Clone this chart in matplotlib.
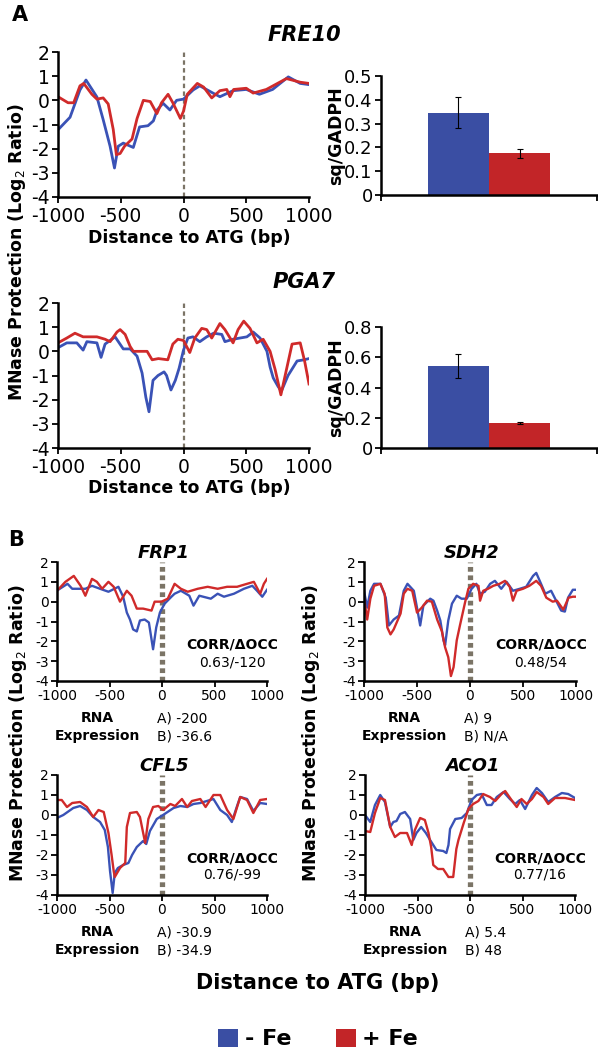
import matplotlib
matplotlib.use("Agg")
import matplotlib.pyplot as plt
from matplotlib.patches import Patch

plt.rcParams["axes.unicode_minus"] = False

W, H = 598, 1050
BLUE = "#3a52b6"
RED = "#d02a2a"
BAR_BLUE = "#3a4ea3"
BAR_RED = "#c22528"
DASH = "#7b7466"

# ---- panel A data ----
fre10_blue_x = [-1000, -904, -825, -777, -690, -640, -585, -550, -520, -480, -400, -350, -283, -240, -210, -163,
                -108, -55, 0, 77, 130, 235, 290, 395, 500, 605, 710, 835, 930, 1000]
fre10_blue_y = [-1.22, -0.7, 0.43, 0.84, 0.14, -0.8, -1.9, -2.8, -1.9, -1.77, -1.95, -1.1, -1.05, -0.85, -0.4, -0.12,
                -0.4, 0.0, 0.05, 0.43, 0.6, 0.3, 0.15, 0.4, 0.45, 0.25, 0.45, 0.97, 0.7, 0.65]
fre10_red_x = [-1000, -920, -875, -825, -795, -730, -690, -640, -600, -560, -535, -505, -470, -410, -370, -320, -265,
               -212, -175, -123, -85, -25, 0, 30, 110, 160, 225, 290, 345, 370, 400, 500, 555, 660, 820, 930, 1000]
fre10_red_y = [0.15, -0.1, -0.1, 0.6, 0.7, 0.25, 0.05, 0.1, -0.15, -1.2, -2.25, -2.2, -1.9, -1.6, -0.75, 0.0, -0.05,
               -0.55, -0.1, 0.25, -0.1, -0.75, -0.45, 0.25, 0.7, 0.55, 0.1, 0.4, 0.45, 0.15, 0.45, 0.5, 0.3, 0.45, 0.9,
               0.75, 0.7]

pga7_blue_x = [-1000, -930, -850, -800, -770, -690, -657, -625, -545, -480, -425, -370, -330, -300, -275, -243, -203,
               -155, -135, -100, -65, -35, 0, 35, 75, 130, 185, 240, 305, 330, 395, 505, 555, 610, 665, 690, 715, 753,
               780, 833, 905, 960, 1000]
pga7_blue_y = [0.15, 0.35, 0.35, 0.05, 0.4, 0.35, -0.25, 0.3, 0.6, 0.1, 0.1, -0.2, -0.9, -1.9, -2.5, -1.2, -1.0,
               -0.85, -1.0, -1.6, -1.2, -0.7, 0.05, 0.55, 0.6, 0.4, 0.6, 0.75, 0.7, 0.4, 0.5, 0.6, 0.8, 0.55, 0.0,
               -0.65, -1.1, -1.45, -1.65, -1.0, -0.4, -0.35, -0.3]
pga7_red_x = [-1000, -930, -865, -800, -690, -625, -585, -530, -505, -465, -425, -400, -290, -250, -200, -125, -85,
              -45, 0, 50, 90, 145, 185, 225, 290, 330, 395, 435, 480, 530, 585, 635, 690, 730, 776, 810, 865, 930,
              965, 1000]
pga7_red_y = [0.35, 0.55, 0.75, 0.6, 0.6, 0.5, 0.4, 0.8, 0.9, 0.7, 0.2, 0.0, 0.0, -0.35, -0.3, -0.35, 0.3, 0.5, 0.45,
              -0.05, 0.55, 0.95, 0.9, 0.55, 1.15, 0.9, 0.35, 0.9, 1.25, 0.95, 0.35, 0.5, 0.0, -0.75, -1.8, -1.0, 0.3,
              0.35, -0.4, -1.35]

fre10_bar = [0.345, 0.175]
fre10_err = [0.065, 0.02]
pga7_bar = [0.54, 0.165]
pga7_err = [0.08, 0.005]

# ---- panel B data ----
frp1_blue_x = [-1000, -900, -855, -730, -667, -590, -510, -415, -370, -335, -305, -275, -240, -210, -165, -125, -85,
               -55, -20, 25, 90, 120, 180, 260, 300, 355, 465, 530, 590, 685, 780, 860, 905, 955, 1000]
frp1_blue_y = [0.56, 0.9, 0.65, 0.65, 0.8, 0.65, 0.5, 0.75, 0.25, -0.55, -0.9, -1.4, -1.5, -0.95, -0.9, -1.05, -2.4,
               -1.3, -0.55, -0.1, 0.25, 0.4, 0.55, 0.3, -0.2, 0.3, 0.15, 0.4, 0.25, 0.4, 0.65, 0.8, 0.55, 0.25, 0.6]
frp1_red_x = [-1000, -920, -840, -775, -730, -667, -620, -570, -510, -460, -400, -335, -290, -240, -180, -100, -70,
              -5, 55, 120, 180, 245, 340, 435, 530, 620, 715, 810, 875, 935, 970, 1000]
frp1_red_y = [0.55, 1.0, 1.3, 0.8, 0.3, 1.15, 1.0, 0.65, 1.0, 0.75, 0.0, 0.55, 0.3, -0.35, -0.35, -0.45, 0.0, 0.0,
              0.15, 0.9, 0.65, 0.5, 0.65, 0.75, 0.65, 0.75, 0.75, 0.9, 1.0, 0.4, 0.9, 1.15]

sdh2_blue_x = [-1000, -970, -940, -905, -845, -795, -765, -720, -670, -625, -590, -530, -495, -470, -440, -375, -345,
               -310, -280, -250, -235, -205, -170, -125, -80, -30, 15, 60, 95, 140, 190, 235, 295, 345, 405, 470, 530,
               595, 625, 670, 710, 765, 860, 895, 925, 970, 1000]
sdh2_blue_y = [0.55, -0.3, 0.55, 0.9, 0.9, 0.2, -1.2, -0.9, -0.7, 0.55, 0.9, 0.55, -0.45, -1.2, -0.2, 0.15, 0.05,
               -0.45, -0.95, -1.95, -2.2, -0.95, -0.1, 0.3, 0.15, 0.15, 0.65, 0.9, 0.4, 0.5, 0.9, 1.05, 0.65, 1.0,
               0.55, 0.65, 0.75, 1.3, 1.45, 0.9, 0.4, 0.55, -0.45, -0.5, 0.2, 0.6, 0.6]
sdh2_red_x = [-1000, -970, -940, -905, -845, -805, -780, -750, -720, -655, -625, -590, -545, -500, -455, -405, -360,
              -310, -265, -235, -205, -180, -155, -125, -95, -45, -15, 30, 80, 95, 125, 170, 220, 280, 330, 375, 405,
              440, 500, 560, 625, 670, 720, 780, 820, 880, 930, 970, 1000]
sdh2_red_y = [0.2, -0.9, 0.15, 0.8, 0.9, 0.4, -1.3, -1.65, -1.4, -0.6, 0.4, 0.65, 0.55, -0.55, -0.3, 0.05, 0.0, -0.9,
              -1.5, -2.3, -2.8, -3.75, -3.3, -1.95, -1.2, 0.0, 0.65, 0.9, 0.8, 0.05, 0.55, 0.65, 0.8, 0.9, 1.05, 0.75,
              0.05, 0.55, 0.65, 0.8, 1.05, 0.8, 0.2, 0.0, 0.05, -0.4, 0.2, 0.25, 0.25]

cfl5_blue_x = [-1000, -940, -845, -780, -715, -655, -590, -545, -515, -495, -470, -450, -420, -370, -320, -285, -240,
               -180, -150, -115, -50, 10, 110, 175, 240, 300, 365, 490, 555, 620, 665, 715, 745, 810, 870, 935, 1000]
cfl5_blue_y = [-0.15, 0.0, 0.35, 0.45, 0.25, -0.1, -0.35, -0.75, -1.6, -2.8, -3.9, -2.9, -2.65, -2.5, -2.4, -2.0,
               -1.6, -1.3, -1.45, -0.8, -0.2, 0.0, 0.35, 0.45, 0.4, 0.55, 0.6, 0.8, 0.25, 0.0, -0.35, 0.45, 0.9, 0.8,
               0.2, 0.6, 0.55]
cfl5_red_x = [-1000, -955, -905, -855, -780, -715, -655, -605, -555, -510, -480, -460, -450, -400, -350, -335, -305,
              -240, -210, -160, -130, -85, -35, 10, 80, 125, 190, 240, 285, 365, 415, 490, 555, 620, 680, 745, 810,
              870, 935, 1000]
cfl5_red_y = [0.75, 0.75, 0.4, 0.6, 0.65, 0.4, -0.1, 0.25, 0.15, -0.9, -2.0, -2.8, -3.1, -2.65, -2.4, -0.6, 0.1, 0.15,
              -0.1, -1.4, -0.2, 0.4, 0.45, 0.25, 0.55, 0.45, 0.8, 0.4, 0.7, 0.8, 0.4, 1.0, 1.0, 0.25, -0.2, 0.9, 0.75,
              0.1, 0.75, 0.8]

aco1_blue_x = [-1000, -950, -905, -855, -810, -760, -730, -700, -665, -620, -570, -540, -510, -465, -420, -380, -350,
               -320, -255, -225, -205, -190, -140, -80, -30, 15, 65, 110, 160, 205, 255, 320, 380, 430, 475, 525, 590,
               635, 685, 745, 810, 875, 935, 1000]
aco1_blue_y = [0.0, -0.35, 0.5, 1.0, 0.65, -0.6, -0.35, -0.3, 0.05, 0.15, -0.2, -1.25, -0.9, -0.6, -0.9, -1.25, -1.5,
               -1.75, -1.8, -1.9, -1.5, -0.7, -0.2, -0.15, 0.1, 0.75, 1.0, 1.05, 0.5, 0.5, 0.9, 1.15, 0.8, 0.55, 0.75,
               0.3, 1.0, 1.35, 1.1, 0.65, 0.9, 1.1, 1.05, 0.85]
aco1_red_x = [-1000, -950, -905, -855, -810, -760, -715, -665, -600, -555, -525, -475, -430, -395, -370, -350, -305,
              -255, -205, -160, -130, -110, -60, -15, 30, 80, 125, 190, 240, 300, 335, 395, 445, 490, 540, 590, 635,
              700, 745, 810, 905, 1000]
aco1_red_y = [-0.8, -0.85, 0.1, 0.85, 0.75, -0.6, -1.1, -0.9, -0.9, -1.5, -0.75, -0.15, -0.25, -0.9, -1.6, -2.5, -2.7,
              -2.7, -3.1, -3.1, -1.7, -1.25, -0.4, 0.3, 0.55, 0.7, 1.05, 0.9, 0.7, 1.05, 1.2, 0.75, 0.4, 0.8, 0.55, 0.8,
              1.15, 0.9, 0.55, 0.85, 0.85, 0.75]

corr_text = {"FRP1": "0.63/-120", "SDH2": "0.48/54", "CFL5": "0.76/-99", "ACO1": "0.77/16"}
rna_a = {"FRP1": "-200", "SDH2": "9", "CFL5": "-30.9", "ACO1": "5.4"}
rna_b = {"FRP1": "-36.6", "SDH2": "N/A", "CFL5": "-34.9", "ACO1": "48"}

fig = plt.figure(figsize=(W / 100, H / 100), dpi=100)


def px_axes(x0, y0, x1, y1):
    return fig.add_axes([x0 / W, 1 - y1 / H, (x1 - x0) / W, (y1 - y0) / H])


def ftext(x, y, s, **kw):
    kw.setdefault("ha", "center")
    kw.setdefault("va", "center")
    fig.text(x / W, 1 - y / H, s, **kw)


def style_axes(ax, fs, lw=1.8, xpad=2):
    for side in ["top", "right"]:
        ax.spines[side].set_visible(False)
    for side in ["left", "bottom"]:
        ax.spines[side].set_linewidth(lw)
    ax.tick_params(direction="out", length=4, width=1.3, labelsize=fs, pad=2)
    ax.tick_params(axis="x", pad=xpad)


def line_panel(ax, bx, by, rx, ry, fs, lw, dash_lw, dash_style, xpad=2):
    ax.plot(bx, by, color=BLUE, lw=lw, solid_joinstyle="round")
    ax.plot(rx, ry, color=RED, lw=lw, solid_joinstyle="round")
    ax.axvline(0, color=DASH, lw=dash_lw, linestyle=dash_style, zorder=0)
    ax.set_xlim(-1000, 1000)
    ax.set_ylim(-4, 2)
    ax.set_xticks([-1000, -500, 0, 500, 1000])
    ax.set_yticks([-4, -3, -2, -1, 0, 1, 2])
    style_axes(ax, fs, xpad=xpad)


def bar_panel(ax, vals, errs, top, step):
    ax.bar([0, 1], vals, width=1.0, color=[BAR_BLUE, BAR_RED], yerr=errs, capsize=2.5,
           error_kw=dict(elinewidth=0.8, capthick=0.8, ecolor="black"))
    ax.set_xlim(-1.27, 2.27)
    ax.set_ylim(0, top)
    ax.set_xticks([-1.27, 2.27])
    ax.set_xticklabels(["", ""])
    n = int(round(top / step))
    ax.set_yticks([round(i * step, 1) for i in range(n + 1)])
    ax.set_yticklabels(["0"] + [f"{i * step:.1f}" for i in range(1, n + 1)])
    style_axes(ax, 13)


# ---- panel A ----
ax = px_axes(58, 52, 309, 197)
line_panel(ax, fre10_blue_x, fre10_blue_y, fre10_red_x, fre10_red_y, 13.5, 2.0, 1.6, (0, (2, 1.5)), xpad=3)
ax = px_axes(58, 303, 309, 448)
line_panel(ax, pga7_blue_x, pga7_blue_y, pga7_red_x, pga7_red_y, 13.5, 2.0, 1.6, (0, (2, 1.5)), xpad=3)

ax = px_axes(381, 76, 597, 195)
bar_panel(ax, fre10_bar, fre10_err, 0.5, 0.1)
ax = px_axes(381, 327, 597, 448)
bar_panel(ax, pga7_bar, pga7_err, 0.8, 0.2)

ftext(20, 15, "A", fontsize=15, fontweight="bold")
ftext(304, 35, "FRE10", fontsize=15, fontweight="bold", style="italic")
ftext(304, 282, "PGA7", fontsize=15, fontweight="bold", style="italic")
ftext(189, 238, "Distance to ATG (bp)", fontsize=12.5, fontweight="bold")
ftext(189, 488, "Distance to ATG (bp)", fontsize=12.5, fontweight="bold")
ftext(17, 252, "MNase Protection (Log$_2$ Ratio)", fontsize=12.5, fontweight="bold", rotation=90)
ftext(336, 136, "sq/GADPH", fontsize=12.5, fontweight="bold", rotation=90)
ftext(336, 388, "sq/GADPH", fontsize=12.5, fontweight="bold", rotation=90)

# ---- panel B ----
b_panels = [
    ("FRP1", (57, 562, 267, 681), frp1_blue_x, frp1_blue_y, frp1_red_x, frp1_red_y),
    ("SDH2", (364, 562, 576, 681), sdh2_blue_x, sdh2_blue_y, sdh2_red_x, sdh2_red_y),
    ("CFL5", (57, 775, 267, 895), cfl5_blue_x, cfl5_blue_y, cfl5_red_x, cfl5_red_y),
    ("ACO1", (365, 775, 575, 895), aco1_blue_x, aco1_blue_y, aco1_red_x, aco1_red_y),
]
for name, (x0, y0, x1, y1), bx, by, rx, ry in b_panels:
    ax = px_axes(x0, y0, x1, y1)
    line_panel(ax, bx, by, rx, ry, 10, 1.7, 3.8, (0, (0.9, 0.7)))
    xc = (x0 + x1) / 2
    ftext(xc + 2, y0 - 9, name, fontsize=13, fontweight="bold", style="italic")
    ftext(x1 - 35, y0 + 83, "CORR/\u0394OCC", fontsize=10, fontweight="bold")
    ftext(x1 - 35, y0 + 100, corr_text[name], fontsize=10)
    ftext(x0 + 40, y1 + 37, "RNA", fontsize=10, fontweight="bold")
    ftext(x0 + 40, y1 + 55, "Expression", fontsize=10, fontweight="bold")
    ftext(x0 + 100, y1 + 37, "A) " + rna_a[name], fontsize=10, ha="left")
    ftext(x0 + 100, y1 + 55, "B) " + rna_b[name], fontsize=10, ha="left")

ftext(16, 540, "B", fontsize=15, fontweight="bold")
ftext(18, 733, "MNase Protection (Log$_2$ Ratio)", fontsize=12.5, fontweight="bold", rotation=90)
ftext(311, 733, "MNase Protection (Log$_2$ Ratio)", fontsize=12.5, fontweight="bold", rotation=90)
ftext(318, 983, "Distance to ATG (bp)", fontsize=15, fontweight="bold")

handles = [Patch(facecolor=BAR_BLUE, label="- Fe"), Patch(facecolor=BAR_RED, label="+ Fe")]
fig.legend(handles=handles, loc="center", bbox_to_anchor=(318 / W, 1 - 1039 / H), ncol=2, frameon=False,
           handlelength=0.9, handleheight=0.9, handletextpad=0.3, columnspacing=2.0,
           prop=dict(size=16, weight="bold"))

fig.savefig("out.png", dpi=100)
